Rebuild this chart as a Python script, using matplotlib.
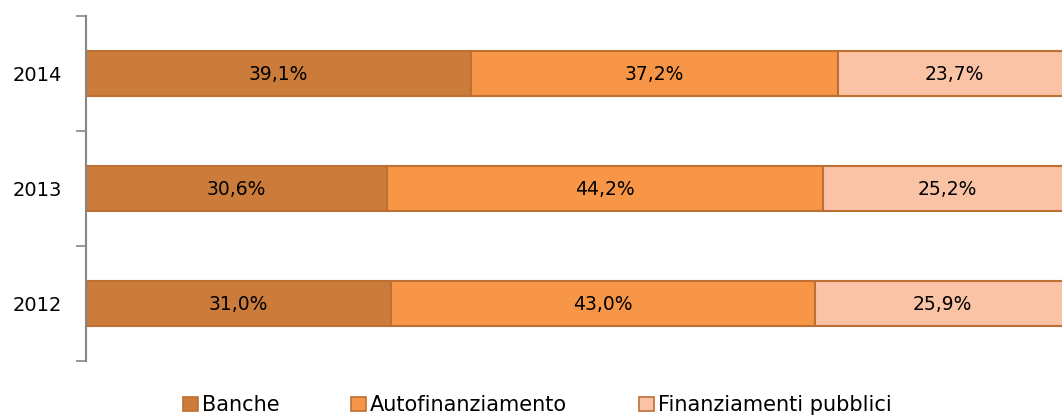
import numpy as np
import matplotlib
matplotlib.use('Agg')
import matplotlib.pyplot as plt
from matplotlib.patches import Patch

plt.rcParams['font.family'] = ['DejaVu Sans']

# dati
anni = ['2012', '2013', '2014']
banche = [31.0, 30.6, 39.1]
autofinanziamento = [43.0, 44.2, 37.2]
finanziamenti_pubblici = [25.9, 25.2, 23.7]

serie = ['Banche', 'Autofinanziamento', 'Finanziamenti pubblici']
colori = ['#CB7B3A', '#F79646', '#FAC3A6']
bordo = '#BE6F33'

fig = plt.figure(figsize=(10.62, 4.18), dpi=100)
ax = fig.add_axes([0.081, 0.1364, 0.9275, 0.8254])

y = np.arange(len(anni))
left = np.zeros(len(anni))
for valori, nome, col in zip([banche, autofinanziamento, finanziamenti_pubblici], serie, colori):
    valori = np.array(valori)
    ax.barh(y, valori, left=left, height=0.39, color=col, edgecolor=bordo,
            linewidth=1.5, label=nome)
    for yi, l, v in zip(y, left, valori):
        ax.text(l + v / 2, yi - 0.01, f'{v:.1f}'.replace('.', ',') + '%',
                ha='center', va='center', fontsize=13.5, color='black')
    left += valori

ax.set_xlim(0, 100)
ax.set_ylim(-0.5, 2.5)
ax.set_yticks(y)
ax.set_yticklabels(anni, fontsize=14)
ax.set_yticks([-0.5, 0.5, 1.5, 2.5], minor=True)
ax.tick_params(axis='y', which='major', length=0, pad=17)
ax.tick_params(axis='y', which='minor', length=7, width=1.2, color='#868686', direction='out')
ax.set_xticks([])

for s in ['top', 'right', 'bottom']:
    ax.spines[s].set_visible(False)
ax.spines['left'].set_color('#868686')
ax.spines['left'].set_linewidth(1.5)

handles = [Patch(facecolor=c, edgecolor=bordo, linewidth=1.2) for c in colori]
fig.legend(handles, serie, loc='center', bbox_to_anchor=(0.506, 0.03), ncol=3,
           frameon=False, fontsize=15, handlelength=0.7, handleheight=0.7,
           handletextpad=0.2, columnspacing=3.45)

fig.savefig('out.png', dpi=100)
